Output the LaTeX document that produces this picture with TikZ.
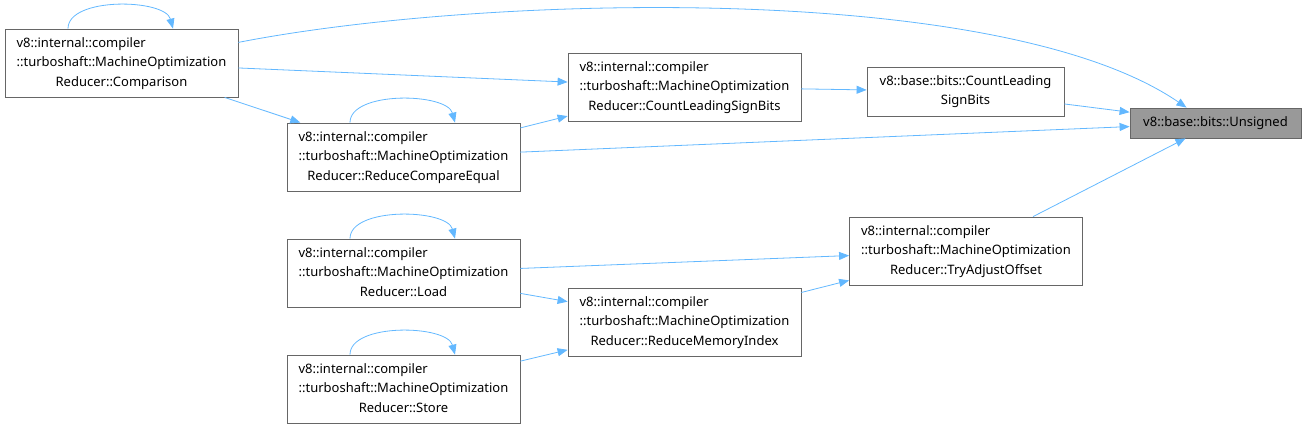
\documentclass[tikz,border=0pt]{standalone}
\usepackage{fontspec}
\setmainfont{Noto Sans}
\usetikzlibrary{arrows.meta}
\definecolor{edgeblue}{HTML}{63B8FF}
\definecolor{boxline}{HTML}{666666}
\definecolor{curfill}{HTML}{999999}
\newcommand{\fnlabel}[3]{\begin{tabular}{@{}l@{}}#1\\#2\\\multicolumn{1}{@{}c@{}}{#3}\end{tabular}}

\begin{document}
\begin{tikzpicture}[x=1pt,y=-1pt,
  fn/.style={draw=boxline, line width=0.8pt, fill=white, inner sep=0pt, minimum width=233pt, minimum height=68pt, font=\fontsize{13}{19.5}\selectfont},
  fncur/.style={fn, fill=curfill, minimum width=171pt, minimum height=30pt},
  call/.style={edgeblue, line width=0.8pt, -{Triangle[length=10pt, width=8pt]}}]
\useasboundingbox (0,0) rectangle (1306,429);
\node[fn] (cmp) at (121.5,63) {\fnlabel{v8::internal::compiler}{::turboshaft::MachineOptimization}{Reducer::Comparison}};
\node[fn] (rce) at (403.5,157) {\fnlabel{v8::internal::compiler}{::turboshaft::MachineOptimization}{Reducer::ReduceCompareEqual}};
\node[fn] (clsbmo) at (684.5,87) {\fnlabel{v8::internal::compiler}{::turboshaft::MachineOptimization}{Reducer::CountLeadingSignBits}};
\node[fn, minimum width=197pt, minimum height=49pt, align=center] (clsb) at (965.5,91.5) {v8::base::bits::CountLeading\\SignBits};
\node[fncur] (uns) at (1215.5,123) {v8::base::bits::Unsigned};
\node[fn] (tao) at (966,251) {\fnlabel{v8::internal::compiler}{::turboshaft::MachineOptimization}{Reducer::TryAdjustOffset}};
\node[fn] (load) at (403.5,273) {\fnlabel{v8::internal::compiler}{::turboshaft::MachineOptimization}{Reducer::Load}};
\node[fn] (rmi) at (684.5,322) {\fnlabel{v8::internal::compiler}{::turboshaft::MachineOptimization}{Reducer::ReduceMemoryIndex}};
\node[fn] (store) at (403.5,389) {\fnlabel{v8::internal::compiler}{::turboshaft::MachineOptimization}{Reducer::Store}};
\draw[call] (cmp.10.7) .. controls (480,-5) and (1000,-20) .. (uns.152);
\draw[call] (cmp) -- (clsbmo);
\draw[call] (cmp) -- (rce);
\draw[call] (rce) -- (clsbmo);
\draw[call] (rce) -- (uns);
\draw[call] (clsbmo) -- (clsb);
\draw[call] (clsb) -- (uns);
\draw[call] (tao) -- (uns);
\draw[call] (load) -- (tao);
\draw[call] (load) -- (rmi);
\draw[call] (store) -- (rmi);
\draw[call] (rmi) -- (tao);
\draw[call] ([xshift=-53.5pt]cmp.north) .. controls +(0,-32) and +(-8,-30) .. ([xshift=51.5pt]cmp.north);
\draw[call] ([xshift=-53.5pt]rce.north) .. controls +(0,-32) and +(-8,-30) .. ([xshift=51.5pt]rce.north);
\draw[call] ([xshift=-53.5pt]load.north) .. controls +(0,-32) and +(-8,-30) .. ([xshift=51.5pt]load.north);
\draw[call] ([xshift=-53.5pt]store.north) .. controls +(0,-32) and +(-8,-30) .. ([xshift=51.5pt]store.north);
\end{tikzpicture}
\end{document}
